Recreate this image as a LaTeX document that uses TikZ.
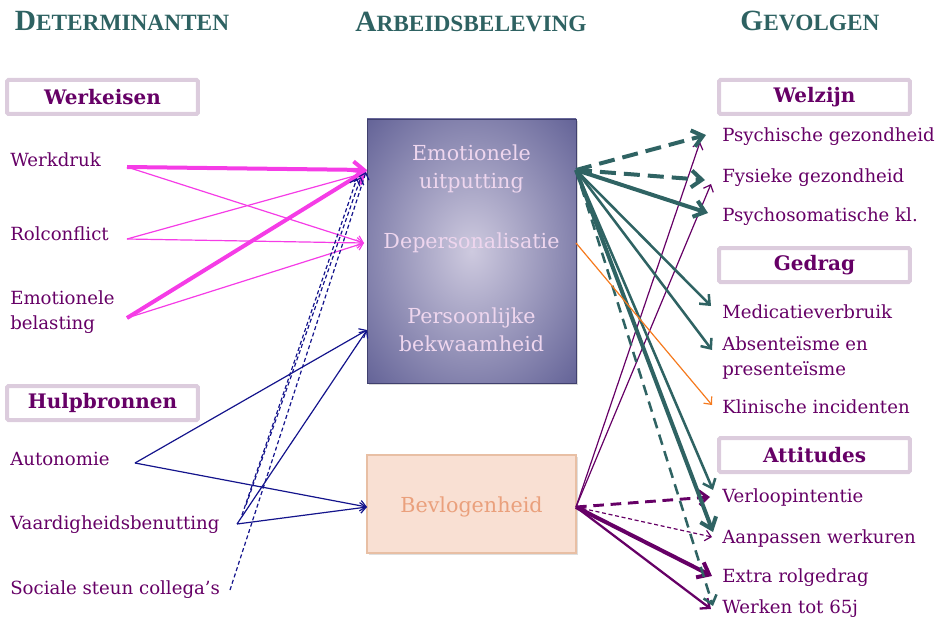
\documentclass[tikz,border=0pt]{standalone}
\usepackage{fontspec}
\setmainfont{DejaVu Serif}
\newfontfamily\headfont{Liberation Serif}
\usepackage{xcolor}
\usepackage{tikz}
\usetikzlibrary{shadows}
\usetikzlibrary{arrows.meta}
\usetikzlibrary{shapes}

\definecolor{headteal}{HTML}{2E6262}
\definecolor{plum}{HTML}{660066}
\definecolor{lilac}{HTML}{DCCCDD}
\definecolor{hotpink}{HTML}{F53CE6}
\definecolor{navy}{HTML}{14148C}
\definecolor{darkteal}{HTML}{2F6363}
\definecolor{tangerine}{HTML}{F57A1E}
\definecolor{peach}{HTML}{F9E0D3}
\definecolor{peachline}{HTML}{E8BFA4}
\definecolor{salmon}{HTML}{EAA07C}
\definecolor{slate}{HTML}{50508A}
\definecolor{mist}{HTML}{CECADF}
\definecolor{blush}{HTML}{EED6EE}

\pgfdeclareradialshading{burnglow}{\pgfpoint{0bp}{0bp}}{color(0bp)=(mist); color(42bp)=(slate); color(80bp)=(slate)}

\newcommand{\fakesc}[2]{{\fontsize{22}{22}\selectfont #1}{\fontsize{17.5}{17.5}\selectfont #2}}

\tikzstyle{header}=[font=\headfont\bfseries, text=headteal, inner sep=0pt]
\tikzstyle{catbox}=[rectangle, rounded corners=1pt, draw=lilac, line width=3pt, minimum width=143pt, minimum height=25.5pt, inner sep=0pt, font=\fontsize{15}{17}\selectfont\bfseries, text=plum]
\tikzstyle{factor}=[anchor=west, inner sep=0pt, align=left, font=\fontsize{13.6}{18.75}\selectfont, text=plum]
\tikzstyle{burnbox}=[rectangle, draw=slate!80!black, shading=burnglow, minimum width=156.75pt, minimum height=198pt, drop shadow={opacity=0.3, shadow xshift=1.5pt, shadow yshift=-1.5pt}]
\tikzstyle{vigbox}=[rectangle, draw=peachline, line width=1pt, fill=peach, minimum width=156.75pt, minimum height=73.5pt, drop shadow={opacity=0.25, shadow xshift=1.5pt, shadow yshift=-1.5pt}]
\tikzstyle{inner}=[align=center, inner sep=0pt, font=\fontsize{15.5}{21}\selectfont, text=blush]
\tikzstyle{pinkthick} = [draw, hotpink, line width=3pt, ->]
\tikzstyle{pinkthin} = [draw, hotpink, line width=0.9pt, ->]
\tikzstyle{navyline} = [draw, navy, line width=0.9pt, ->]
\tikzstyle{navydash} = [draw, navy, line width=0.9pt, dash pattern=on 3pt off 2pt, ->]
\tikzstyle{tealthick} = [draw, darkteal, line width=3pt, ->]
\tikzstyle{tealmid} = [draw, darkteal, line width=1.9pt, ->]
\tikzstyle{tealdash} = [draw, darkteal, line width=3pt, dash pattern=on 12pt off 6pt, ->]
\tikzstyle{tealdashmid} = [draw, darkteal, line width=1.9pt, dash pattern=on 8pt off 5pt, ->]
\tikzstyle{orangeline} = [draw, tangerine, line width=0.9pt, ->]
\tikzstyle{plumthick} = [draw, plum, line width=3pt, ->]
\tikzstyle{plummid} = [draw, plum, line width=1.7pt, ->]
\tikzstyle{plumthin} = [draw, plum, line width=0.9pt, ->]
\tikzstyle{plumdash} = [draw, plum, line width=2.2pt, dash pattern=on 8pt off 5pt, ->]
\tikzstyle{plumdashthin} = [draw, plum, line width=0.9pt, dash pattern=on 3pt off 2pt, ->]

\begin{document}
\begin{tikzpicture}[x=0.75pt, y=-0.75pt, >={Straight Barb[length=3pt 1.6, width=6pt 2.2]}]
  \useasboundingbox (0,0) rectangle (942,624);

  % column headers
  \node[header] (hdet) at (122,21) {\fakesc{D}{ETERMINANTEN}};
  \node[header] (harb) at (471,22) {\fakesc{A}{RBEIDSBELEVING}};
  \node[header] (hgev) at (810,21) {\fakesc{G}{EVOLGEN}};

  \foreach \x/\y/\name/\label in {102.5/97/werkeisen/Werkeisen, 102.5/403/hulpbronnen/Hulpbronnen, 814.5/97/welzijn/Welzijn, 814.5/265/gedrag/Gedrag, 814.5/455/attitudes/Attitudes}
          \node[catbox] (\name) at (\x,\y) {\label};

  \foreach \x/\y/\name/\label in {10/160/werkdruk/Werkdruk, 10/234/rolconflict/Rolconflict, 10/312/belasting/{Emotionele\\belasting}, 10/459/autonomie/Autonomie, 10/525/vaardig/Vaardigheidsbenutting, 10/590/sociale/Sociale steun collega’s}
          \node[factor] (\name) at (\x,\y) {\label};

  \foreach \x/\y/\name/\label in {722/137/psych/Psychische gezondheid, 722/178/fysiek/Fysieke gezondheid, 722/217/psysom/Psychosomatische kl., 722/312/medic/Medicatieverbruik, 722/358/absent/{Absenteïsme en\\presenteïsme}, 722/407/klin/Klinische incidenten}
          \node[factor] (\name) at (\x,\y) {\label};

  \foreach \x/\y/\name/\label in {722/497/verloop/Verloopintentie, 722/538/aanpas/Aanpassen werkuren, 722/578/extra/Extra rolgedrag, 722/609/werken/Werken tot 65j}
          \node[factor] (\name) at (\x,\y) {\label};

  % centre boxes
  \node[burnbox] (burnout) at (471.5,251) {};
  \node[inner] (uitputting) at (471.5,169) {Emotionele\\uitputting};
  \node[inner] (depers) at (471.5,243) {Depersonalisatie};
  \node[inner] (bekwaam) at (471.5,330) {Persoonlijke\\bekwaamheid};
  \node[vigbox] (bevlogen) at (471.5,504) {};
  \node[inner, text=salmon] (bevlabel) at (471.5,507) {Bevlogenheid};

  % connector ends
  \foreach \x/\y/\name in {127/167/wd-o, 127/239/rc-o, 127/318/eb-o, 135/463/au-o, 237/524/vb-o, 242/515/vb-o2, 246/505/vb-o3, 230/590/ss-o}
          \coordinate (\name) at (\x,\y);
  \foreach \x/\y/\name in {367/170/eu-a, 365/173/eu-b, 357/178/eu-c, 361/177/eu-d, 366/172/eu-e, 364/243/dp-a, 367/330/pb-a, 367/507/bv-a}
          \coordinate (\name) at (\x,\y);
  \foreach \x/\y/\name in {576/170/eu-o, 576/243/dp-o, 576/507/bv-o}
          \coordinate (\name) at (\x,\y);
  \foreach \x/\y/\name in {706/135/ps-t, 700/142/ps-p, 705/180/fy-t, 711/184/fy-p, 708/213/so-t, 711/306/me-t, 712/350/ab-t, 712/405/kl-t}
          \coordinate (\name) at (\x,\y);
  \foreach \x/\y/\name in {713/490/vl-t, 710/497/vl-p, 713/532/aw-t, 712/537/aw-p, 712/576/ex-p, 713/606/wt-t, 711/609/wt-p}
          \coordinate (\name) at (\x,\y);

  \foreach \source/\dest/\kind in {wd-o/eu-a/pinkthick, wd-o/dp-a/pinkthin, rc-o/eu-b/pinkthin, rc-o/dp-a/pinkthin, eb-o/eu-a/pinkthick, eb-o/dp-a/pinkthin}
         \path[\kind] (\source) -- (\dest);

  \foreach \source/\dest/\kind in {au-o/pb-a/navyline, au-o/bv-a/navyline, vb-o/pb-a/navyline, vb-o/bv-a/navyline, vb-o2/eu-c/navydash, vb-o3/eu-d/navydash, ss-o/eu-e/navydash}
         \path[\kind] (\source) -- (\dest);

  \foreach \source/\dest/\kind in {bv-o/ps-p/plumthin, bv-o/fy-p/plumthin, bv-o/vl-p/plumdash, bv-o/aw-p/plumdashthin, bv-o/ex-p/plumthick, bv-o/wt-p/plummid}
         \path[\kind] (\source) -- (\dest);

  \foreach \source/\dest/\kind in {eu-o/ps-t/tealdash, eu-o/fy-t/tealdash, eu-o/so-t/tealthick, eu-o/me-t/tealmid, eu-o/ab-t/tealmid, eu-o/vl-t/tealmid, eu-o/aw-t/tealthick, eu-o/wt-t/tealdashmid, dp-o/kl-t/orangeline}
         \path[\kind] (\source) -- (\dest);

\end{tikzpicture}
\end{document}
